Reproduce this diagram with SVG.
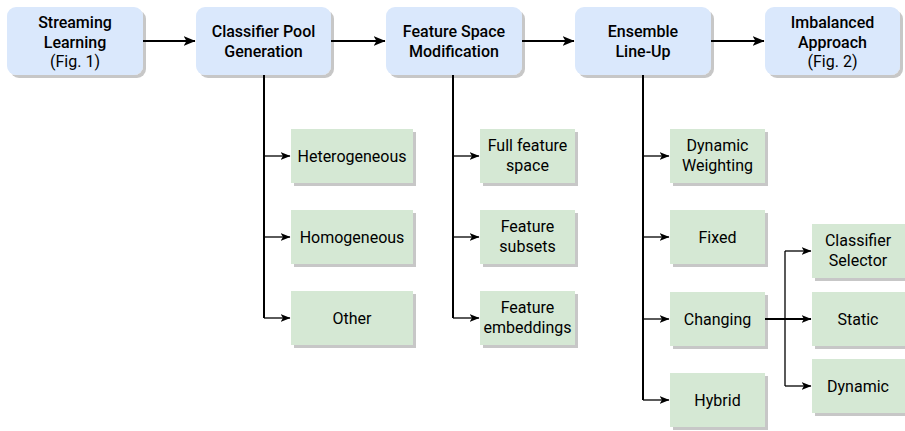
<svg xmlns="http://www.w3.org/2000/svg" width="905" height="431" viewBox="0 0 905 431">
<defs>
<marker id="arr" viewBox="0 0 12 10" refX="11.5" refY="5" markerWidth="12" markerHeight="10" markerUnits="userSpaceOnUse" orient="auto">
<path d="M0,0 L12,5 L0,10 L3,5 Z" fill="#000"/>
</marker>
<marker id="arrs" viewBox="0 0 10 8" refX="9.5" refY="4" markerWidth="10" markerHeight="8" markerUnits="userSpaceOnUse" orient="auto">
<path d="M0,0 L10,4 L0,8 L2.5,4 Z" fill="#000"/>
</marker>
<filter id="sh" x="-10%" y="-10%" width="130%" height="130%">
<feOffset dx="3" dy="3" in="SourceAlpha" result="o"/>
<feFlood flood-color="#000" flood-opacity="0.22"/>
<feComposite in2="o" operator="in" result="s"/>
<feMerge><feMergeNode in="s"/><feMergeNode in="SourceGraphic"/></feMerge>
</filter>
<style>
.top{fill:#dae8fc;filter:url(#sh)}
.leaf{fill:#d5e8d4;filter:url(#sh)}
.t{font-family:Roboto,"Liberation Sans",sans-serif;font-size:16px;text-anchor:middle;fill:#000}
.b{font-weight:500}
.c{fill:none;stroke:#000;stroke-width:2}
.c1{fill:none;stroke:#000;stroke-width:1.3}
</style>
</defs>
<rect width="905" height="431" fill="#fff"/>
<g id="connectors">
<path class="c" d="M143,41 H195" marker-end="url(#arr)"/>
<path class="c" d="M331,41 H385" marker-end="url(#arr)"/>
<path class="c" d="M522,41 H574" marker-end="url(#arr)"/>
<path class="c" d="M711,41 H764" marker-end="url(#arr)"/>
<path class="c" d="M264,75 V318"/>
<path class="c1" d="M264,156 H290" marker-end="url(#arrs)"/>
<path class="c1" d="M264,237 H290" marker-end="url(#arrs)"/>
<path class="c1" d="M264,318 H290" marker-end="url(#arrs)"/>
<path class="c" d="M453,75 V318"/>
<path class="c1" d="M453,156 H479" marker-end="url(#arrs)"/>
<path class="c1" d="M453,237 H479" marker-end="url(#arrs)"/>
<path class="c1" d="M453,318 H479" marker-end="url(#arrs)"/>
<path class="c" d="M643,75 V400"/>
<path class="c1" d="M643,156 H669" marker-end="url(#arrs)"/>
<path class="c1" d="M643,237 H669" marker-end="url(#arrs)"/>
<path class="c1" d="M643,319 H669" marker-end="url(#arrs)"/>
<path class="c1" d="M643,400 H669" marker-end="url(#arrs)"/>
<path class="c" d="M765,319 H811" marker-end="url(#arrs)"/>
<path class="c1" d="M785,251 V386"/>
<path class="c1" d="M785,251 H811" marker-end="url(#arrs)"/>
<path class="c1" d="M785,386 H811" marker-end="url(#arrs)"/>
</g>
<g id="streaming">
<rect class="top" x="7" y="7" width="136" height="68" rx="9"/>
<text class="t b" x="75" y="28">Streaming</text>
<text class="t b" x="75" y="47.5">Learning</text>
<text class="t" x="75" y="67">(Fig. 1)</text>
</g>
<g id="pool">
<rect class="top" x="196" y="7" width="135" height="68" rx="9"/>
<text class="t b" x="263.5" y="37">Classifier Pool</text>
<text class="t b" x="263.5" y="57">Generation</text>
</g>
<g id="feature">
<rect class="top" x="386" y="7" width="136" height="68" rx="9"/>
<text class="t b" x="454" y="37">Feature Space</text>
<text class="t b" x="454" y="57">Modification</text>
</g>
<g id="ensemble">
<rect class="top" x="575" y="7" width="136" height="68" rx="9"/>
<text class="t b" x="643" y="37">Ensemble</text>
<text class="t b" x="643" y="57">Line-Up</text>
</g>
<g id="imbalanced">
<rect class="top" x="765" y="7" width="135" height="68" rx="9"/>
<text class="t b" x="832.5" y="28">Imbalanced</text>
<text class="t b" x="832.5" y="47.5">Approach</text>
<text class="t" x="832.5" y="67">(Fig. 2)</text>
</g>
<g id="heterogeneous">
<rect class="leaf" x="291" y="129" width="122" height="54"/>
<text class="t" x="352" y="161.5">Heterogeneous</text>
</g>
<g id="homogeneous">
<rect class="leaf" x="291" y="210" width="122" height="54"/>
<text class="t" x="352" y="242.5">Homogeneous</text>
</g>
<g id="other">
<rect class="leaf" x="291" y="291" width="122" height="54"/>
<text class="t" x="352" y="323.5">Other</text>
</g>
<g id="fullfeature">
<rect class="leaf" x="480" y="129" width="95" height="54"/>
<text class="t" x="527.5" y="151">Full feature</text>
<text class="t" x="527.5" y="171">space</text>
</g>
<g id="subsets">
<rect class="leaf" x="480" y="210" width="95" height="54"/>
<text class="t" x="527.5" y="232">Feature</text>
<text class="t" x="527.5" y="252">subsets</text>
</g>
<g id="embeddings">
<rect class="leaf" x="480" y="291" width="95" height="54"/>
<text class="t" x="527.5" y="313">Feature</text>
<text class="t" x="527.5" y="333">embeddings</text>
</g>
<g id="dynweight">
<rect class="leaf" x="670" y="129" width="95" height="54"/>
<text class="t" x="717.5" y="151">Dynamic</text>
<text class="t" x="717.5" y="171">Weighting</text>
</g>
<g id="fixed">
<rect class="leaf" x="670" y="210" width="95" height="54"/>
<text class="t" x="717.5" y="242.5">Fixed</text>
</g>
<g id="changing">
<rect class="leaf" x="670" y="292" width="95" height="54"/>
<text class="t" x="717.5" y="324.5">Changing</text>
</g>
<g id="hybrid">
<rect class="leaf" x="670" y="373" width="95" height="54"/>
<text class="t" x="717.5" y="405.5">Hybrid</text>
</g>
<g id="selector">
<rect class="leaf" x="812" y="224" width="95" height="54"/>
<text class="t" x="858" y="246">Classifier</text>
<text class="t" x="858" y="266">Selector</text>
</g>
<g id="static">
<rect class="leaf" x="812" y="292" width="95" height="54"/>
<text class="t" x="858" y="324.5">Static</text>
</g>
<g id="dynamic">
<rect class="leaf" x="812" y="359" width="95" height="54"/>
<text class="t" x="858" y="391.5">Dynamic</text>
</g>
</svg>
